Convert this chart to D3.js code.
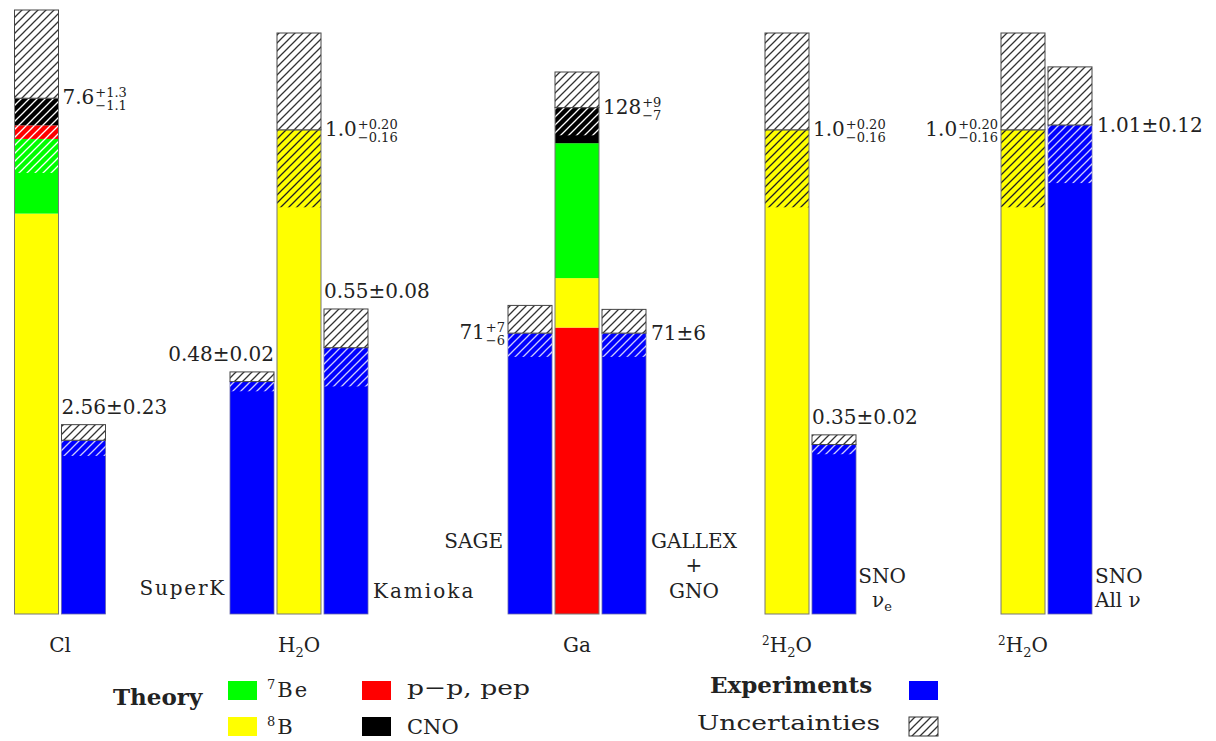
<!DOCTYPE html>
<html>
<head>
<meta charset="utf-8">
<script src="https://cdn.jsdelivr.net/npm/d3@7"></script>
<style>
  body { margin: 0; background: #fff; }
  text { font-family: "DejaVu Serif", serif; fill: #222; }
</style>
</head>
<body>
<script>
// ---- data ----
var groupIds    = ['cl', 'h2o', 'ga', 'sno', 'snoall'];
var groupLabels = ['Cl', 'H2O', 'Ga', '2H2O', '2H2O'];

// theory (SSM) components, in each group's own units
var theoryPP  = [0.2, 0,   72.4, 0,   0];
var theoryBe7 = [1.1, 0,   34.1, 0,   0];
var theoryB8  = [5.9, 1.0, 12.5, 1.0, 1.0];
var theoryCNO = [0.4, 0,   9.0,  0,   0];
var theoryPlus  = [1.3, 0.20, 9, 0.20, 0.20];
var theoryMinus = [1.1, 0.16, 7, 0.16, 0.16];
var theoryText      = ['7.6', '1.0', '128', '1.0', '1.0'];
var theoryPlusText  = ['+1.3', '+0.20', '+9', '+0.20', '+0.20'];
var theoryMinusText = ['\u22121.1', '\u22120.16', '\u22127', '\u22120.16', '\u22120.16'];

// experiments
var expNames  = ['Homestake', 'SuperK', 'Kamioka', 'SAGE', 'GALLEX + GNO', 'SNO \u03bde', 'SNO All \u03bd'];
var expGroup  = [0, 1, 1, 2, 2, 3, 4];
var expValue  = [2.56, 0.48, 0.55, 71, 71, 0.35, 1.01];
var expPlus   = [0.23, 0.02, 0.08, 7, 6, 0.02, 0.12];
var expMinus  = [0.23, 0.02, 0.08, 6, 6, 0.02, 0.12];
var expText      = ['2.56\u00b10.23', '0.48\u00b10.02', '0.55\u00b10.08', '71', '71\u00b16', '0.35\u00b10.02', '1.01\u00b10.12'];
var expPlusText  = ['', '', '', '+7', '', '', ''];
var expMinusText = ['', '', '', '\u22126', '', '', ''];

// ---- layout ----
var W = 1216, H = 741, base = 614, pitch = 47;
var groupSize   = [2, 3, 3, 2, 2];
var theorySlot  = [0, 1, 1, 0, 0];
var expSlot     = [1, 0, 2, 0, 2, 1, 1];
var yMax = [8.9, 1.2, 137, 1.2, 1.2];
var yTop = [10, 33, 72, 33, 33];
var catLabelAtTheory = [false, true, true, true, true];
// where the value label sits relative to its bar
var expLabelPos = ['above-left', 'above-right', 'above-left', 'left', 'right', 'above-left', 'right'];

var colors = { pp: '#ff0000', be7: '#00ff00', b8: '#ffff00', cno: '#000000', exp: '#0000ff' };
var comps  = { pp: theoryPP, be7: theoryBe7, b8: theoryB8, cno: theoryCNO };
var stackOrder = [['b8', 'be7', 'pp', 'cno'], ['b8'], ['pp', 'b8', 'be7', 'cno'], ['b8'], ['b8']];

var svg = d3.select('body').append('svg').attr('width', W).attr('height', H);

var groupCenter = d3.scaleOrdinal().domain(groupIds).range([60, 299, 577, 810.5, 1046.5]);
var yScale = groupIds.map(function (g, i) {
  return d3.scaleLinear().domain([0, yMax[i]]).range([base, yTop[i]]);
});
function slotScale(n) {
  return d3.scaleBand().domain(d3.range(n))
    .range([-n * pitch / 2, n * pitch / 2]).paddingInner(3 / 47).paddingOuter(1.5 / 47);
}
var slots = groupSize.map(slotScale);
function barX(g, slot) { return groupCenter(groupIds[g]) + slots[g](slot); }
var barW = slots[0].bandwidth();

// hatch patterns
var defs = svg.append('defs');
function hatch(id, color, w) {
  var p = defs.append('pattern').attr('id', id).attr('patternUnits', 'userSpaceOnUse')
    .attr('width', 8).attr('height', 8);
  p.append('path').attr('d', 'M-2,2L2,-2M0,8L8,0M6,10L10,6')
    .attr('stroke', color).attr('stroke-width', w);
}
hatch('hatchUp', '#333', 1.3);
hatch('hatchDark', '#fff', 1.3);
hatch('hatchLight', '#222', 1.3);

function rect(x, y0, y1, fill) {
  return svg.append('rect').attr('x', x).attr('width', barW)
    .attr('y', Math.min(y0, y1)).attr('height', Math.abs(y1 - y0)).attr('fill', fill);
}
function upperBox(x, y, v, plus) {
  var top = y(v + plus), bot = y(v);
  rect(x, top, bot, '#fff');
  rect(x, top, bot, 'url(#hatchUp)').attr('stroke', '#444').attr('stroke-width', 1);
}

// ---- theory bars ----
groupIds.forEach(function (gid, g) {
  var y = yScale[g], x = barX(g, theorySlot[g]);
  var acc = 0, segs = [];
  stackOrder[g].forEach(function (k) {
    var v = comps[k][g];
    segs.push({ k: k, v0: acc, v1: acc + v });
    acc += v;
  });
  var total = acc, lo = total - theoryMinus[g];
  segs.forEach(function (s) { rect(x, y(s.v0), y(s.v1), colors[s.k]); });
  segs.forEach(function (s) {
    var a = Math.max(s.v0, lo), b = Math.min(s.v1, total);
    if (b > a) rect(x, y(a), y(b), s.k === 'b8' ? 'url(#hatchLight)' : 'url(#hatchDark)');
  });
  rect(x, y(0), y(total), 'none').attr('stroke', '#777').attr('stroke-width', 1);
  upperBox(x, y, total, theoryPlus[g]);
});

// ---- experiment bars ----
expValue.forEach(function (v, i) {
  var g = expGroup[i], y = yScale[g], x = barX(g, expSlot[i]);
  rect(x, y(0), y(v), colors.exp).attr('stroke', '#66a').attr('stroke-width', 0.8);
  rect(x, y(v - expMinus[i]), y(v), 'url(#hatchDark)').attr('opacity', 0.8);
  upperBox(x, y, v, expPlus[i]);
});

// ---- value labels ----
function pmLabel(x, y, main, sup, sub, anchor) {
  var g = svg.append('g');
  var t = g.append('text').attr('font-size', 20).text(main);
  var w = t.node().getComputedTextLength();
  if (sup) g.append('text').attr('x', w + 1).attr('y', -7).attr('font-size', 13).text(sup);
  if (sub) g.append('text').attr('x', w + 1).attr('y', 6).attr('font-size', 13).text(sub);
  var bw = g.node().getBBox().width;
  g.attr('transform', 'translate(' + (anchor === 'end' ? x - bw : x) + ',' + y + ')');
}

groupIds.forEach(function (gid, g) {
  var y = yScale[g], x = barX(g, theorySlot[g]);
  var total = d3.sum(stackOrder[g], function (k) { return comps[k][g]; });
  var left = (g === 4);
  pmLabel(left ? x - 3 : x + barW + 4, y(total) + 6,
    theoryText[g], theoryPlusText[g], theoryMinusText[g], left ? 'end' : 'start');
});

expValue.forEach(function (v, i) {
  var g = expGroup[i], y = yScale[g], x = barX(g, expSlot[i]);
  var pos = expLabelPos[i], top = y(v + expPlus[i]);
  if (pos === 'above-left') pmLabel(x, top - 11, expText[i], expPlusText[i], expMinusText[i], 'start');
  if (pos === 'above-right') pmLabel(x + barW, top - 11, expText[i], expPlusText[i], expMinusText[i], 'end');
  if (pos === 'left') pmLabel(x - 3, y(v) + 6, expText[i], expPlusText[i], expMinusText[i], 'end');
  if (pos === 'right') pmLabel(x + barW + 5, y(v) + 7, expText[i], expPlusText[i], expMinusText[i], 'start');
});

// ---- experiment names ----
function word(x, y, s, anchor, size) {
  return svg.append('text').attr('x', x).attr('y', y).attr('font-size', size || 20)
    .attr('text-anchor', anchor || 'start').text(s);
}
function expX(i) { return barX(expGroup[i], expSlot[i]); }
word(expX(1) - 4, 595, 'SuperK', 'end').attr('letter-spacing', 1.8);
word(expX(2) + barW + 5, 598, 'Kamioka').attr('letter-spacing', 2);
word(expX(3) - 5, 548, 'SAGE', 'end');
var gx = expX(4) + barW + 48;
word(gx, 548, 'GALLEX', 'middle');
word(gx, 572, '+', 'middle');
word(gx, 598, 'GNO', 'middle');
var sx = expX(5) + barW + 26;
word(sx, 583, 'SNO', 'middle');
var nu = word(sx, 607, '\u03bd', 'middle');
nu.append('tspan').attr('font-size', 13).attr('dy', 4).text('e');
word(expX(6) + barW + 3, 583, 'SNO');
word(expX(6) + barW + 3, 607, 'All  \u03bd');

// ---- category labels ----
groupIds.forEach(function (gid, g) {
  var cx = catLabelAtTheory[g] ? barX(g, theorySlot[g]) + barW / 2 : groupCenter(gid);
  var t = svg.append('text').attr('x', cx).attr('y', 652).attr('font-size', 20).attr('text-anchor', 'middle');
  var s = groupLabels[g];
  if (s === 'Cl' || s === 'Ga') { t.text(s); return; }
  if (s.charAt(0) === '2') {
    t.append('tspan').attr('font-size', 12).attr('dy', -7).text('2');
    t.append('tspan').attr('dy', 7).text('H');
  } else {
    t.append('tspan').text('H');
  }
  t.append('tspan').attr('font-size', 13).attr('dy', 5).text('2');
  t.append('tspan').attr('dy', -5).text('O');
});

// ---- legend ----
word(113, 705, 'Theory', 'start', 23).attr('font-weight', 'bold');
function swatch(x, y, fill) {
  return svg.append('rect').attr('x', x).attr('y', y).attr('width', 29).attr('height', 19).attr('fill', fill);
}
swatch(228, 681, colors.be7);
swatch(228, 717, colors.b8);
swatch(362, 681, colors.pp);
swatch(362, 717, colors.cno);
var t7 = word(267, 697, '', 'start', 21);
t7.append('tspan').attr('font-size', 13).attr('dy', -8).text('7');
t7.append('tspan').attr('dy', 8).attr('dx', 2).attr('letter-spacing', 2).text('Be');
var t8 = word(267, 734, '', 'start', 21);
t8.append('tspan').attr('font-size', 13).attr('dy', -8).text('8');
t8.append('tspan').attr('dy', 8).attr('dx', 2).text('B');
word(407, 695, 'p\u2212p, pep', 'start', 21).attr('textLength', 123).attr('lengthAdjust', 'spacingAndGlyphs');
word(407, 734, 'CNO', 'start', 21);

word(710, 693, 'Experiments', 'start', 23).attr('font-weight', 'bold');
word(697, 730, 'Uncertainties', 'start', 21).attr('textLength', 183).attr('lengthAdjust', 'spacingAndGlyphs');
swatch(909, 681, colors.exp);
swatch(909, 717, '#fff');
swatch(909, 717, 'url(#hatchUp)').attr('stroke', '#333').attr('stroke-width', 1);
</script>
</body>
</html>
